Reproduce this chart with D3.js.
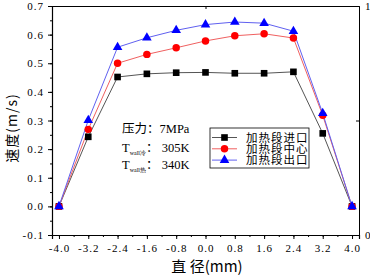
<!DOCTYPE html>
<html>
<head>
<meta charset="utf-8">
<script src="https://cdn.jsdelivr.net/npm/d3@7"></script>
<style>
  html, body { margin: 0; padding: 0; background: #fff; }
  svg { display: block; }
</style>
</head>
<body>
<svg id="chart" width="370" height="279"></svg>
<script>
// data
const radius = [-4.0, -3.2, -2.4, -1.6, -0.8, 0.0, 0.8, 1.6, 2.4, 3.2, 4.0];
const inlet  = [0, 0.243, 0.452, 0.463, 0.467, 0.468, 0.465, 0.465, 0.470, 0.255, 0];
const middle = [0, 0.269, 0.500, 0.531, 0.554, 0.578, 0.596, 0.603, 0.588, 0.318, 0];
const outlet = [0, 0.301, 0.556, 0.589, 0.615, 0.635, 0.644, 0.640, 0.612, 0.325, 0];
const seriesNames = ['加热段进口', '加热段中心', '加热段出口'];
const xTicks = [-4.0, -3.2, -2.4, -1.6, -0.8, 0.0, 0.8, 1.6, 2.4, 3.2, 4.0];
const yTicks = [-0.1, 0.0, 0.1, 0.2, 0.3, 0.4, 0.5, 0.6, 0.7];

const series = [
  { name: seriesNames[0], values: inlet,  color: '#000', line: '#555', shape: d3.symbolSquare, size: 44 },
  { name: seriesNames[1], values: middle, color: '#ff0000', line: '#f06060', shape: d3.symbolCircle, size: 44 },
  { name: seriesNames[2], values: outlet, color: '#0000ff', line: '#6060f0', shape: d3.symbolTriangle, size: 40 }
];

const svg = d3.select('#chart');
const margin = { left: 52, top: 6, right: 11, bottom: 44 };
const W = 370, H = 279;
const innerW = W - margin.left - margin.right;
const innerH = H - margin.top - margin.bottom;

const x = d3.scaleLinear().domain([-4.19, 4.19]).range([0, innerW]);
const y = d3.scaleLinear().domain([-0.1, 0.7]).range([innerH, 0]);

const g = svg.append('g').attr('transform', `translate(${margin.left},${margin.top})`);
const tickFont = '"Liberation Serif", serif';
const cjk = '"Noto Sans CJK SC", sans-serif';

// bottom axis, minor ticks first
g.append('g')
  .attr('transform', `translate(0,${innerH})`)
  .call(d3.axisBottom(x).tickValues(d3.range(-4.0, 4.01, 0.4).map(v => +v.toFixed(1))).tickSize(2).tickFormat(''))
  .call(a => a.select('.domain').remove());
g.append('g')
  .attr('transform', `translate(0,${innerH})`)
  .call(d3.axisBottom(x).tickValues(xTicks).tickSize(4).tickPadding(5))
  .call(a => a.select('.domain').attr('stroke-width', 1.2))
  .call(a => a.selectAll('text')
    .style('font-family', tickFont).style('font-size', '11px').style('letter-spacing', '1px')
    .text(d => d3.format('.1f')(d).replace('−', '-')));

// left axis
g.append('g')
  .call(d3.axisLeft(y).tickValues(d3.range(-0.1, 0.701, 0.05)).tickSize(2).tickFormat(''))
  .call(a => a.select('.domain').remove());
g.append('g')
  .call(d3.axisLeft(y).tickValues(yTicks).tickSize(4).tickPadding(4))
  .call(a => a.select('.domain').attr('stroke-width', 1.2))
  .call(a => a.selectAll('text')
    .style('font-family', tickFont).style('font-size', '11px').style('letter-spacing', '1px')
    .text(d => d3.format('.1f')(d).replace('−', '-')));

// top and right frame axes
const yr = d3.scaleLinear().domain([0, 1]).range([innerH, 0]);
const xt = d3.scaleLinear().domain([0, 1]).range([0, innerW]);
g.append('g')
  .attr('transform', `translate(${innerW},0)`)
  .call(d3.axisRight(yr).tickValues([0, 0.5, 1]).tickSize(-3).tickPadding(6).tickFormat(d => d === 0.5 ? '' : d))
  .call(a => a.select('.domain').attr('stroke-width', 1))
  .call(a => a.selectAll('text').style('font-family', tickFont).style('font-size', '11px'));
g.append('g')
  .call(d3.axisTop(xt).tickValues([0.5]).tickSize(-3).tickFormat(''))
  .call(a => a.select('.domain').attr('stroke-width', 1));

// lines and markers
const line = d3.line().x((d, i) => x(radius[i])).y(d => y(d));
series.forEach(s => {
  g.append('path')
    .datum(s.values)
    .attr('fill', 'none')
    .attr('stroke', s.line)
    .attr('stroke-width', 1)
    .attr('d', line);
});
series.forEach(s => {
  g.append('g').selectAll('path')
    .data(s.values)
    .join('path')
    .attr('transform', (d, i) => `translate(${x(radius[i])},${y(d)})`)
    .attr('d', d3.symbol().type(s.shape).size(s.size))
    .attr('fill', s.color);
});

// legend
const legend = svg.append('g').attr('transform', 'translate(210,128)');
legend.append('rect')
  .attr('width', 99).attr('height', 40)
  .attr('fill', '#fff').attr('stroke', '#000').attr('stroke-width', 0.8);
series.forEach((s, i) => {
  const ly = 9.5 + i * 11.3;
  legend.append('line')
    .attr('x1', 2).attr('x2', 27).attr('y1', ly).attr('y2', ly)
    .attr('stroke', s.line).attr('stroke-width', 1);
  legend.append('path')
    .attr('transform', `translate(14.5,${ly})`)
    .attr('d', d3.symbol().type(s.shape).size(s.size))
    .attr('fill', s.color);
  legend.append('text')
    .attr('x', 36).attr('y', ly + 4)
    .style('font-family', cjk)
    .style('font-size', '11.5px')
    .style('letter-spacing', '1px')
    .text(s.name);
});

// annotation
const note = svg.append('g')
  .style('font-family', '"Liberation Serif", serif')
  .style('font-size', '12.5px');
note.append('text').attr('x', 122).attr('y', 133)
  .html(`<tspan style="font-family:${cjk.replace(/"/g, "'")}">压力：</tspan>7MPa`);
[['冷', '305K', 152], ['热', '340K', 169]].forEach(([c, v, yy]) => {
  const t = note.append('text').attr('x', 122).attr('y', yy);
  t.append('tspan').text('T');
  t.append('tspan').attr('dy', 3).style('font-size', '6px').text('wall' + c);
  t.append('tspan').attr('dy', -3).style('font-family', cjk).text('：');
  t.append('tspan').text(' ' + v);
});

// axis titles
svg.append('text')
  .attr('transform', 'translate(17,128) rotate(-90)')
  .attr('text-anchor', 'middle')
  .style('font-family', cjk)
  .style('font-size', '14px')
  .style('letter-spacing', '1px')
  .text('速度(m/s)');
svg.append('text')
  .attr('x', 207).attr('y', 272)
  .attr('text-anchor', 'middle')
  .style('font-family', cjk)
  .style('font-size', '15px')
  .text('直 径(mm)');
</script>
</body>
</html>
